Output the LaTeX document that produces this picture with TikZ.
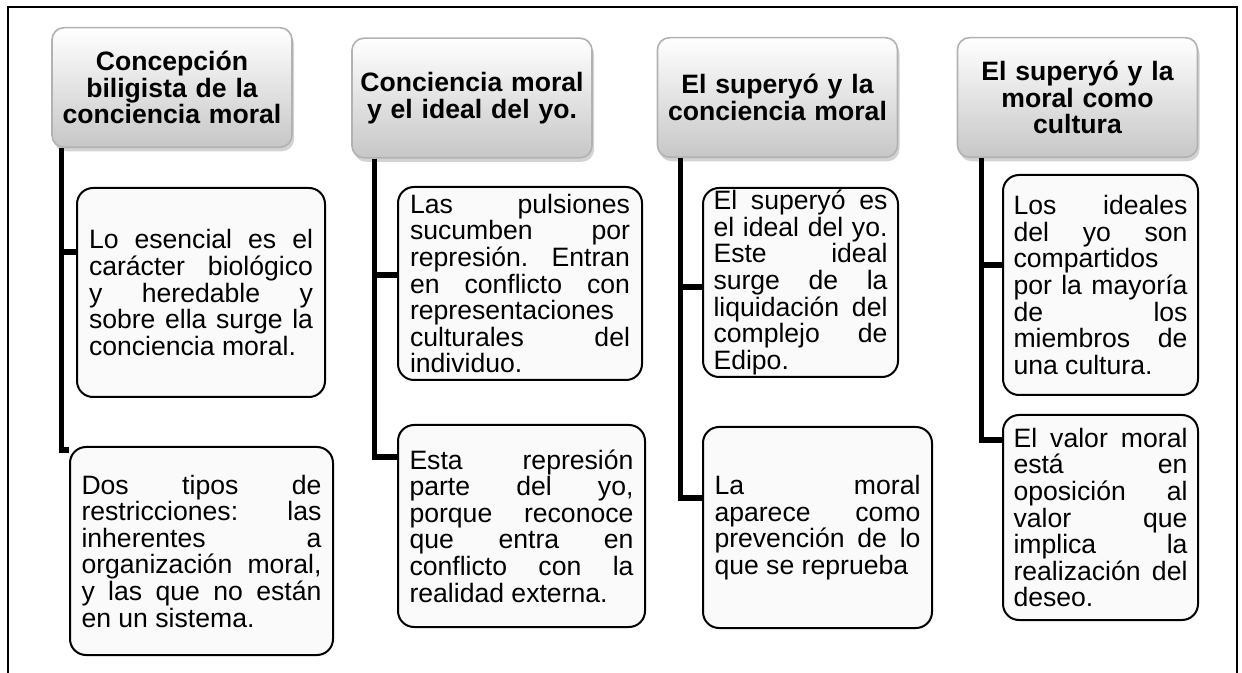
\documentclass[tikz,border=0pt]{standalone}
\usepackage{fontspec}
\setmainfont{Liberation Sans}
\usetikzlibrary{shadows}
\newcommand\textoidea{\fontsize{13.3}{13.3}\selectfont\tolerance=10000\hyphenpenalty=10000\relax}

\begin{document}
\begin{tikzpicture}[x=0.5pt,y=-0.5pt,
titulo/.style={rounded corners=6pt, draw=black!30, line width=0.8pt, top color=white, bottom color=black!22,
  drop shadow={opacity=0.35,shadow xshift=1pt,shadow yshift=-2pt},
  minimum width=120pt, minimum height=59.8pt, text width=116pt, align=center, inner sep=1pt,
  font=\fontsize{13.3}{13.3}\selectfont\bfseries},
idea/.style={draw, line width=1pt, rounded corners=8pt, fill=black!2, align=justify,
  inner xsep=3pt, inner ysep=1pt, font=\textoidea},
rama/.style={line width=2.6pt}]
\useasboundingbox (0,0) rectangle (1242,673);
\draw[line width=1pt] (8,673) -- (8,7) -- (1237,7) -- (1237,673);

\node[titulo] (h1) at (172,87.5) {Concepción\\ biligista de la\\ conciencia moral};
\node[titulo] (h2) at (472,98) {Conciencia moral\\ y el ideal del yo.};
\node[titulo] (h3) at (777.5,97.5) {El superyó y la\\ conciencia moral};
\node[titulo] (h4) at (1077.5,97.5) {El superyó y la\\ moral como\\ cultura};

\node[idea, text width=112pt, minimum width=124pt, minimum height=104.5pt] (c11) at (201,292.5)
{Lo esencial es el\linebreak carácter biológico\linebreak y heredable y\linebreak sobre ella surge la\linebreak conciencia moral.};
\node[idea, text width=120pt, minimum width=131.5pt, minimum height=104pt] (c12) at (201.5,551)
{Dos tipos de\linebreak restricciones: las\linebreak inherentes a\linebreak organización moral,\linebreak y las que no están\linebreak en un sistema.};
\node[idea, text width=110pt, minimum width=122pt, minimum height=96.5pt] (c21) at (520,283.5)
{Las pulsiones\linebreak sucumben por\linebreak represión. Entran\linebreak en conflicto con\linebreak representaciones\linebreak culturales del\linebreak individuo.};
\node[idea, text width=112pt, minimum width=123.5pt, minimum height=101pt] (c22) at (521.5,526)
{Esta represión\linebreak parte del yo,\linebreak porque reconoce\linebreak que entra en\linebreak conflicto con la\linebreak realidad externa.};
\node[idea, text width=87pt, minimum width=97.5pt, minimum height=94.5pt] (c31) at (800.5,282.5)
{El superyó es\linebreak el ideal del yo.\linebreak Este ideal\linebreak surge de la\linebreak liquidación del\linebreak complejo de\linebreak Edipo.};
\node[idea, text width=103pt, minimum width=114.5pt, minimum height=100.5pt] (c32) at (817.5,527.5)
{La moral\linebreak aparece como\linebreak prevención de lo\linebreak que se reprueba};
\node[idea, text width=87pt, minimum width=97.5pt, minimum height=110pt] (c41) at (1100.5,285)
{Los ideales\linebreak del yo son\linebreak compartidos\linebreak por la mayoría\linebreak de los\linebreak miembros de\linebreak una cultura.};
\node[idea, text width=87pt, minimum width=97.5pt, minimum height=102.5pt] (c42) at (1100.5,517.5)
{El valor moral\linebreak está en\linebreak oposición al\linebreak valor que\linebreak implica la\linebreak realización del\linebreak deseo.};

\draw[rama] ([xshift=5pt]h1.south west) |- ([yshift=20.25pt]c11.west);
\draw[rama] ([xshift=5pt]h1.south west) |- ([yshift=50.5pt]c12.west);
\draw[rama] ([xshift=11.5pt]h2.south west) |- ([yshift=4.25pt]c21.west);
\draw[rama] ([xshift=11.5pt]h2.south west) |- ([yshift=34.5pt]c22.west);
\draw[rama] ([xshift=12pt]h3.south west) |- ([yshift=-2.25pt]c31.west);
\draw[rama] ([xshift=12pt]h3.south west) |- ([yshift=14.75pt]c32.west);
\draw[rama] ([xshift=12.5pt]h4.south west) |- ([yshift=10pt]c41.west);
\draw[rama] ([xshift=12.5pt]h4.south west) |- ([yshift=38.75pt]c42.west);
\end{tikzpicture}
\end{document}
